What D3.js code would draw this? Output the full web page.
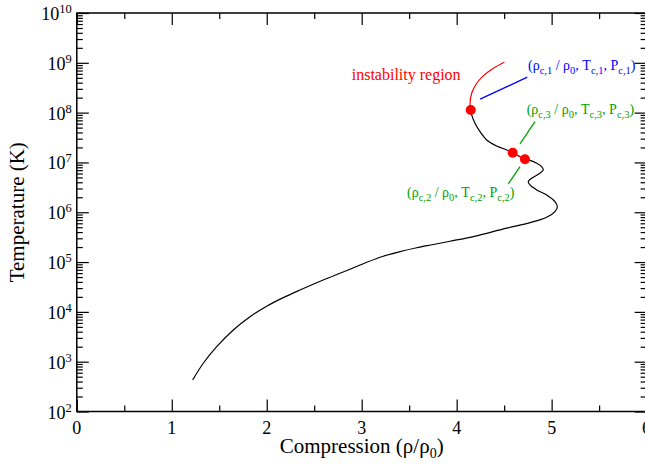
<!DOCTYPE html>
<html><head><meta charset="utf-8">
<script src="https://cdn.jsdelivr.net/npm/d3@7"></script>
<style>
html,body{margin:0;padding:0;background:#fff;}
svg{display:block;font-family:"Liberation Serif","Times New Roman",serif;}
</style></head>
<body>
<svg id="c" width="645" height="464"></svg>
<script>
// ---- data ----
const compression = [1.220,1.332,1.473,1.648,1.824,2.000,2.174,2.350,2.526,2.701,2.877,3.053,3.227,3.403,3.579,3.754,3.930,4.175,4.527,4.772,4.948,5.035,5.060,5.035,4.948,4.843,4.772,4.754,4.790,4.877,4.912,4.895,4.843,4.772,4.719,4.590,4.527,4.421,4.316,4.246,4.193,4.158,4.148];
const temperature = [430,930,2000,4340,8020,1.30e4,1.93e4,2.75e4,3.85e4,5.26e4,7.16e4,9.9e4,1.31e5,1.62e5,1.94e5,2.25e5,2.62e5,3.25e5,4.8e5,6.18e5,7.94e5,1.03e6,1.29e6,1.63e6,2.22e6,2.81e6,3.53e6,4.11e6,4.82e6,6.07e6,7.06e6,8.24e6,9.64e6,1.10e7,1.16e7,1.57e7,1.78e7,2.14e7,2.83e7,4.15e7,6.12e7,9.0e7,1.13e8];
const instabCompression = [4.148,4.140,4.158,4.211,4.280,4.386,4.502];
const instabTemperature = [1.13e8,1.43e8,2.45e8,3.89e8,5.46e8,7.80e8,1.03e9];
const criticalCompression = [4.148,4.719,4.590];      // c,1  c,2  c,3
const criticalTemperature = [1.13e8,1.16e7,1.57e7];
const xTicks = [0,1,2,3,4,5,6];
const xMinorTicks = [0.5,1.5,2.5,3.5,4.5,5.5];
const yExponents = [2,3,4,5,6,7,8,9,10];
// annotation leader lines [x1,T1,x2,T2]
const leaderC1 = [4.246,1.86e8,4.744,5.14e8];
const leaderC3 = [4.667,2.35e7,4.825,6.59e7];
const leaderC2 = [4.544,3.70e6,4.667,8.24e6];
const labelInstab = {x:2.895, T:4.54e8, text:"instability region"};
const labelC1 = {x:4.751, T:7.19e8, i:"1"};
const labelC3 = {x:4.737, T:9.42e7, i:"3"};
const labelC2 = {x:3.477, T:2.06e6, i:"2"};

// ---- layout ----
const L=76.8, R=646.6, T=13, B=411.5;
const x = d3.scaleLinear().domain([0,6]).range([L,R]);
const y = d3.scaleLog().domain([1e2,1e10]).range([B,T]);
const svg = d3.select("#c");

const yMinor=[];
yExponents.slice(0,-1).forEach(e=>{for(let k=2;k<=9;k++) yMinor.push(k*Math.pow(10,e));});
const yMajor = yExponents.map(e=>Math.pow(10,e));

function styleAxis(g){g.select(".domain").remove();g.selectAll("line").attr("stroke","#000").attr("stroke-width",1.2);g.selectAll("text").remove();}

svg.append("g").attr("transform",`translate(0,${B})`).call(d3.axisBottom(x).tickValues(xTicks).tickSize(-12)).call(styleAxis);
svg.append("g").attr("transform",`translate(0,${B})`).call(d3.axisBottom(x).tickValues(xMinorTicks).tickSize(-6)).call(styleAxis);
svg.append("g").attr("transform",`translate(0,${T})`).call(d3.axisTop(x).tickValues(xTicks).tickSize(-12)).call(styleAxis);
svg.append("g").attr("transform",`translate(0,${T})`).call(d3.axisTop(x).tickValues(xMinorTicks).tickSize(-6)).call(styleAxis);
svg.append("g").attr("transform",`translate(${L},0)`).call(d3.axisLeft(y).tickValues(yMajor).tickSize(-12)).call(styleAxis);
svg.append("g").attr("transform",`translate(${L},0)`).call(d3.axisLeft(y).tickValues(yMinor).tickSize(-6)).call(styleAxis);
svg.append("g").attr("transform",`translate(${R},0)`).call(d3.axisRight(y).tickValues(yMajor).tickSize(-12)).call(styleAxis);
svg.append("g").attr("transform",`translate(${R},0)`).call(d3.axisRight(y).tickValues(yMinor).tickSize(-6)).call(styleAxis);

// frame
svg.append("rect").attr("x",L).attr("y",T).attr("width",R-L).attr("height",B-T)
  .attr("fill","none").attr("stroke","#000").attr("stroke-width",1.5);

// x tick labels
svg.append("g").selectAll("text").data(xTicks).join("text")
  .attr("x",d=>x(d)).attr("y",B+22).attr("text-anchor","middle")
  .attr("font-size",18).text(d=>d);

// y tick labels
const yl = svg.append("g").selectAll("text").data(yExponents).join("text")
  .attr("x",L-5).attr("y",d=>y(Math.pow(10,d))+7).attr("text-anchor","end").attr("font-size",18);
yl.append("tspan").text("10");
yl.append("tspan").attr("font-size",12.5).attr("dy",-7).text(d=>d);

// axis titles
const xt = svg.append("text").attr("x",(L+R)/2).attr("y",453).attr("text-anchor","middle").attr("font-size",21);
xt.append("tspan").text("Compression (ρ/ρ");
xt.append("tspan").attr("font-size",14).attr("dy",5).text("0");
xt.append("tspan").attr("dy",-5).text(")");
svg.append("text").attr("transform",`translate(24,${(T+B)/2}) rotate(-90)`)
  .attr("text-anchor","middle").attr("font-size",21).text("Temperature (K)");

// curves
const line = d3.line().x(d=>x(d[0])).y(d=>y(d[1])).curve(d3.curveCatmullRom.alpha(0.5));
const main = compression.map((c,i)=>[c,temperature[i]]);
svg.append("path").datum(main).attr("d",line).attr("fill","none").attr("stroke","#000").attr("stroke-width",1.2);
svg.append("path").datum([[criticalCompression[1],criticalTemperature[1]],[criticalCompression[2],criticalTemperature[2]]])
  .attr("d",line).attr("fill","none").attr("stroke","#ff0000").attr("stroke-width",1.2);
const inst = instabCompression.map((c,i)=>[c,instabTemperature[i]]);
svg.append("path").datum(inst).attr("d",line).attr("fill","none").attr("stroke","#ff0000").attr("stroke-width",1.2);

// leader lines
function leader(a,col){svg.append("line").attr("x1",x(a[0])).attr("y1",y(a[1])).attr("x2",x(a[2])).attr("y2",y(a[3])).attr("stroke",col).attr("stroke-width",1.3);}
leader(leaderC1,"#0000ff");
leader(leaderC3,"#00a000");
leader(leaderC2,"#00a000");

// critical points
svg.append("g").selectAll("circle").data(criticalCompression).join("circle")
  .attr("cx",d=>x(d)).attr("cy",(d,i)=>y(criticalTemperature[i])).attr("r",5).attr("fill","#ff0000");

// labels
svg.append("text").attr("x",x(labelInstab.x)).attr("y",y(labelInstab.T)).attr("font-size",16).attr("fill","#ff0000").text(labelInstab.text);
function critLabel(lb,col){
  const t = svg.append("text").attr("x",x(lb.x)).attr("y",y(lb.T)).attr("font-size",14).attr("fill",col);
  const sub=(s)=>{t.append("tspan").attr("font-size",10.5).attr("dy",4).text(s);};
  const main=(s)=>{t.append("tspan").attr("dy",-4).text(s);};
  t.append("tspan").text("(ρ");
  sub("c,"+lb.i); main(" / ρ"); sub("0"); main(", T"); sub("c,"+lb.i); main(", P"); sub("c,"+lb.i); main(")");
}
critLabel(labelC1,"#0000ff");
critLabel(labelC3,"#00a000");
critLabel(labelC2,"#00a000");
</script>
</body></html>
